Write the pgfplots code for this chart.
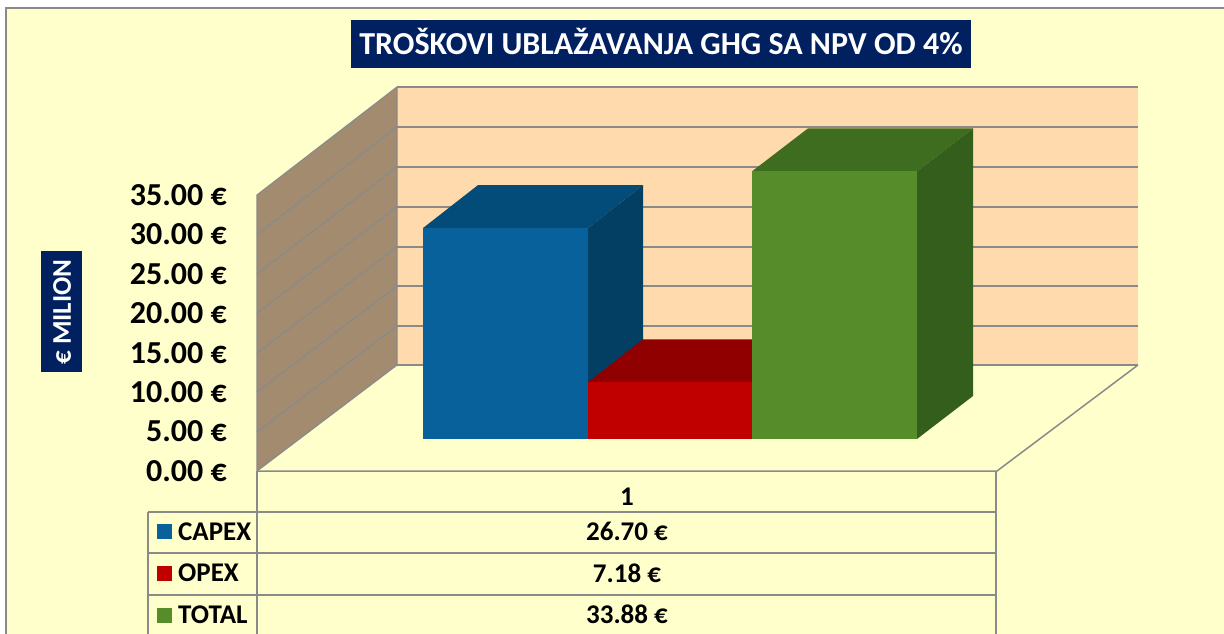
\documentclass[border=0pt]{standalone}
\usepackage{pgfplots}
\pgfplotsset{compat=1.18}
\usepackage{fontspec}
\setmainfont{Carlito}
\definecolor{bg}{HTML}{FFFFCC}
\definecolor{wall}{HTML}{FFDAAC}
\definecolor{lwall}{HTML}{A38B70}
\definecolor{gridc}{HTML}{8A8A8A}
\definecolor{navy}{HTML}{002060}
\definecolor{bluef}{HTML}{09619B}
\definecolor{bluet}{HTML}{034B78}
\definecolor{blues}{HTML}{033F63}
\definecolor{redf}{HTML}{C00000}
\definecolor{redt}{HTML}{900000}
\definecolor{greenf}{HTML}{568C2A}
\definecolor{greent}{HTML}{3F6D1F}
\definecolor{greens}{HTML}{345E1B}
\newcommand{\fs}[1]{\fontsize{#1}{#1}\selectfont\bfseries}
\begin{document}
\begin{tikzpicture}[x=1pt,y=1pt]
\useasboundingbox (0,0) rectangle (1224,634);
% --- background, walls, table: pixel axis
\begin{axis}[at={(0,0)},anchor=south west,scale only axis,width=1224pt,height=634pt,
  xmin=0,xmax=1224,ymin=0,ymax=634,y dir=reverse,hide axis,clip=true]
\addplot[fill=bg,draw=gridc,line width=1.3pt] coordinates {(6,8)(1240,8)(1240,650)(6,650)} --cycle;
\addplot[fill=wall,draw=none] coordinates {(397,87)(1138,87)(1138,365)(397,365)} --cycle;
\addplot[fill=lwall,draw=gridc,line width=1.2pt] coordinates {(257,195)(397,87)(397,365)(257,471)} --cycle;
% back wall grid
\foreach \yy in {87,127,167,207,247,286,326,365}{
  \edef\tmp{\noexpand\draw[gridc,line width=1.5pt] (axis cs:397,\yy) -- (axis cs:1138,\yy);}\tmp
}
% left wall grid
\draw[gridc,line width=1.3pt] (axis cs:257,234.5) -- (axis cs:397,127);
\draw[gridc,line width=1.3pt] (axis cs:257,274) -- (axis cs:397,167);
\draw[gridc,line width=1.3pt] (axis cs:257,313) -- (axis cs:397,207);
\draw[gridc,line width=1.3pt] (axis cs:257,353) -- (axis cs:397,247);
\draw[gridc,line width=1.3pt] (axis cs:257,392) -- (axis cs:397,286);
\draw[gridc,line width=1.3pt] (axis cs:257,432) -- (axis cs:397,326);
% floor
\draw[gridc,line width=1.5pt] (axis cs:257,471) -- (axis cs:997,471) -- (axis cs:1138,365);
% table
\draw[gridc,line width=1.5pt] (axis cs:257,471) -- (axis cs:257,640);
\draw[gridc,line width=1.5pt] (axis cs:996,471) -- (axis cs:996,640);
\draw[gridc,line width=1.5pt] (axis cs:148,512) -- (axis cs:148,640);
\draw[gridc,line width=1.5pt] (axis cs:148,512) -- (axis cs:996,512);
\draw[gridc,line width=1.5pt] (axis cs:148,553) -- (axis cs:996,553);
\draw[gridc,line width=1.5pt] (axis cs:148,595) -- (axis cs:996,595);
% legend swatches
\addplot[fill=bluef,draw=none] coordinates {(157,524)(172,524)(172,539)(157,539)} --cycle;
\addplot[fill=redf,draw=none] coordinates {(157,566)(172,566)(172,581)(157,581)} --cycle;
\addplot[fill=greenf,draw=none] coordinates {(157,608)(172,608)(172,623)(157,623)} --cycle;
% texts
\node[anchor=base west,inner sep=0pt,font=\fs{27}] at (axis cs:178,540) {CAPEX};
\node[anchor=base west,inner sep=0pt,font=\fs{27}] at (axis cs:178,581) {OPEX};
\node[anchor=base west,inner sep=0pt,font=\fs{27}] at (axis cs:178,623) {TOTAL};
\node[anchor=base,inner sep=0pt,font=\fs{27}] at (axis cs:627,505) {1};
\node[anchor=base,inner sep=0pt,font=\fs{27}] at (axis cs:627,540) {26.70 €};
\node[anchor=base,inner sep=0pt,font=\fs{27}] at (axis cs:627,582) {7.18 €};
\node[anchor=base,inner sep=0pt,font=\fs{27}] at (axis cs:627,623) {33.88 €};
% title
\addplot[fill=navy,draw=none] coordinates {(351,20)(971,20)(971,68)(351,68)} --cycle;
\node[anchor=base,inner sep=0pt,text=white,font=\fs{32}] at (axis cs:661,55) {TROŠKOVI UBLAŽAVANJA GHG SA NPV OD 4\%};
% y label
\addplot[fill=navy,draw=none] coordinates {(41,251)(82,251)(82,372)(41,372)} --cycle;
\node[rotate=90,inner sep=0pt,text=white,font=\fs{27}] at (axis cs:62,312) {€ MILION};
\end{axis}
% --- bars: x in pixels, y in value units (bar base at pixel row 439)
\begin{axis}[at={(0,0)},anchor=south west,scale only axis,width=1224pt,height=634pt,
  xmin=0,xmax=1224,ymin=-24.684,ymax=55.570,hide axis,clip=true]
% CAPEX 26.70
\addplot[fill=bluet,draw=none] coordinates {(423,26.70)(588,26.70)(643,32.14)(478,32.14)} --cycle;
\addplot[fill=blues,draw=none] coordinates {(588,0)(643,5.44)(643,32.14)(588,26.70)} --cycle;
\addplot[fill=bluef,draw=none] coordinates {(423,0)(588,0)(588,26.70)(423,26.70)} --cycle;
% OPEX 7.18
\addplot[fill=redt,draw=none] coordinates {(588,7.18)(752,7.18)(807,12.62)(643,12.62)} --cycle;
\addplot[fill=redf,draw=none] coordinates {(588,0)(752,0)(752,7.18)(588,7.18)} --cycle;
% TOTAL 33.88
\addplot[fill=greent,draw=none] coordinates {(752,33.88)(917,33.88)(973,39.32)(808,39.32)} --cycle;
\addplot[fill=greens,draw=none] coordinates {(917,0)(973,5.44)(973,39.32)(917,33.88)} --cycle;
\addplot[fill=greenf,draw=none] coordinates {(752,0)(917,0)(917,33.88)(752,33.88)} --cycle;
\end{axis}
% --- value axis tick labels on the front wall edge
\begin{axis}[at={(257pt,163pt)},anchor=south west,scale only axis,width=140pt,height=276pt,
  xmin=0,xmax=1,ymin=0,ymax=35,ytick={0,5,...,35},xtick=\empty,
  axis x line=none,axis y line*=left,y axis line style={draw=none},
  major tick length=0pt,
  yticklabel={\pgfmathprintnumber[assume math mode=true,fixed,fixed zerofill,precision=2]{\tick}~€},
  yticklabel style={font=\fs{32},anchor=east,inner sep=0pt,xshift=-30pt}]
\addplot[draw=none] coordinates {(0,0)(1,35)};
\end{axis}
\end{tikzpicture}
\end{document}
